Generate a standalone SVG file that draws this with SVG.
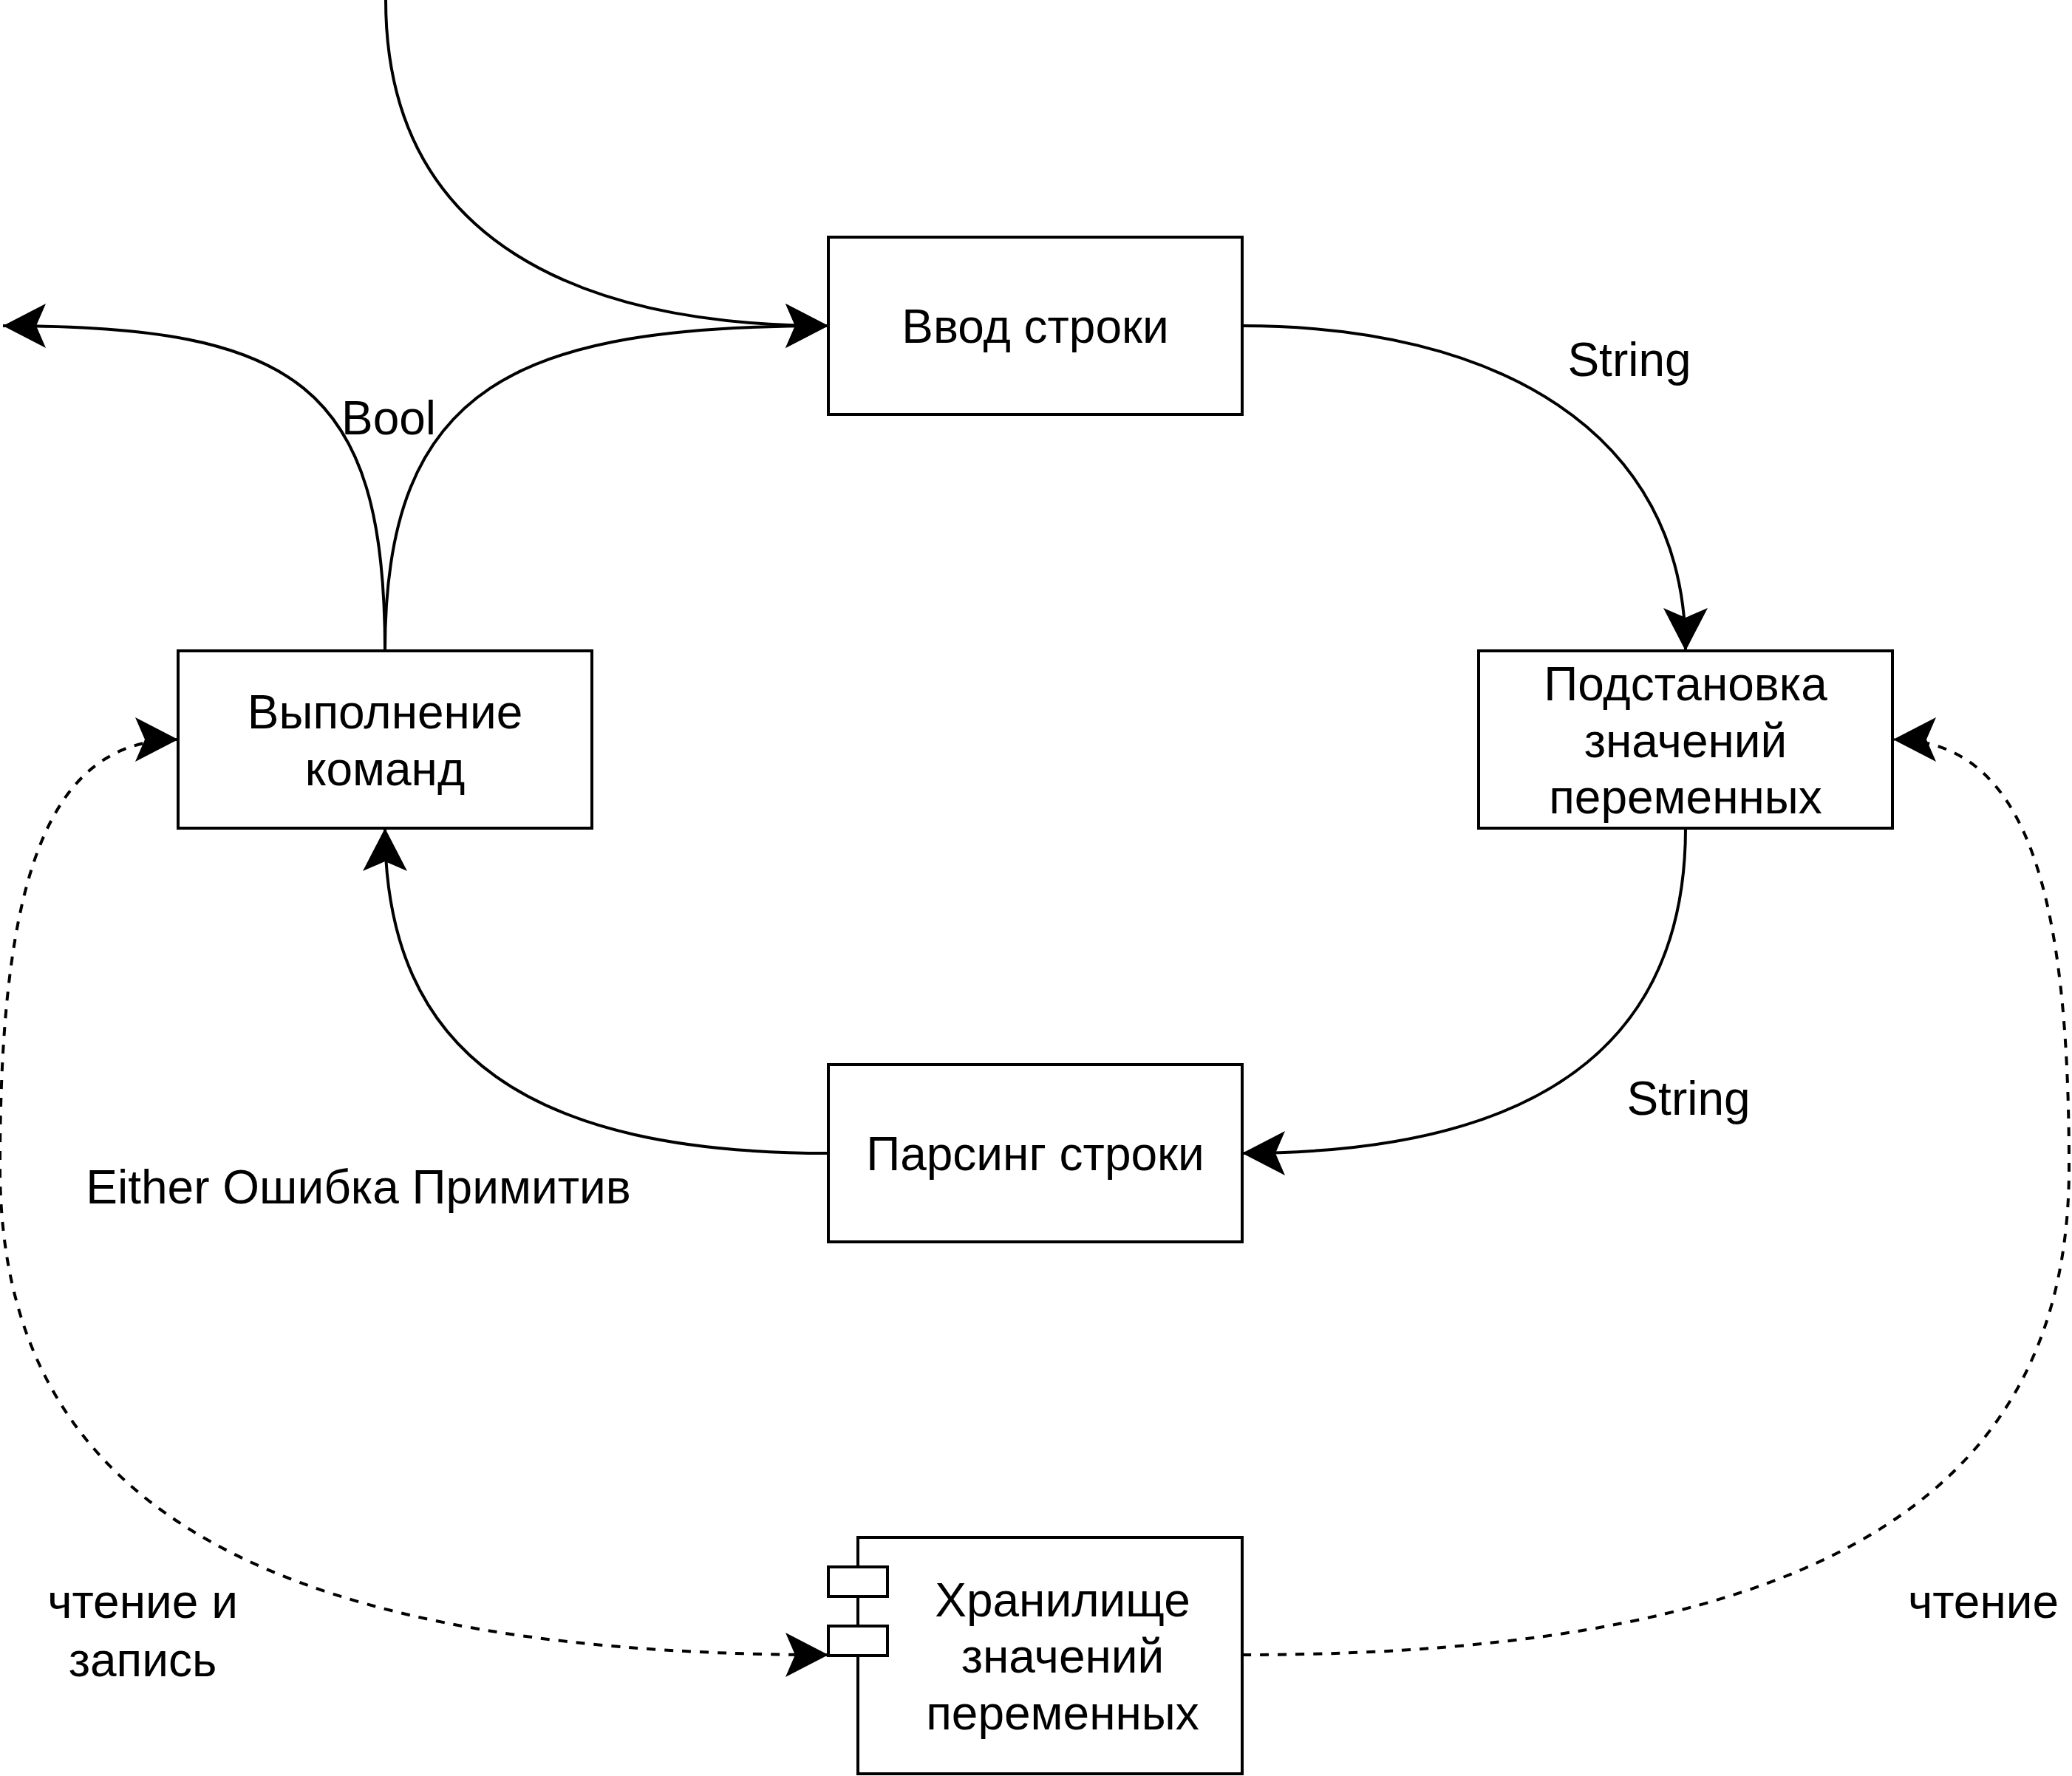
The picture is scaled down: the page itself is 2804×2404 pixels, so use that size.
<svg xmlns="http://www.w3.org/2000/svg" width="2804" height="2404" viewBox="0 0 2804 2404">
<style>
.box{fill:#fff;stroke:#000;stroke-width:4}
.e{fill:none;stroke:#000;stroke-width:4}
.d{stroke-dasharray:12 12}
text{font-family:"Liberation Sans",Arial,sans-serif;font-size:64px;fill:#000;text-anchor:middle}
</style>
<defs>
<marker id="a" viewBox="-60 -32 64 64" refX="0" refY="0" markerWidth="64" markerHeight="64" markerUnits="userSpaceOnUse" orient="auto-start-reverse">
<path d="M0,0 L-58,-30 L-45,0 L-58,30 Z" fill="#000"/>
</marker>
</defs>
<rect width="2804" height="2404" fill="#fff"/>
<g id="connectors">
<path class="e" d="M522,0 C522,330 790,441 1121,441" marker-end="url(#a)"/>
<path class="e" d="M521,881 C521,520 700,441 1121,441" marker-end="url(#a)"/>
<path class="e" d="M521,881 C521,520 400,441 4,441" marker-end="url(#a)"/>
<path class="e" d="M1681,441 C2020,441 2281,580 2281,881" marker-end="url(#a)"/>
<path class="e" d="M2281,1121 C2281,1430 2060,1561 1681,1561" marker-end="url(#a)"/>
<path class="e" d="M1121,1561 C720,1561 521,1430 521,1121" marker-end="url(#a)"/>
<path class="e d" d="M241,1001 C60,1001 0,1200 0,1580 C0,2000 300,2240 1121,2240" marker-start="url(#a)" marker-end="url(#a)"/>
<path class="e d" d="M1681,2240 C2500,2240 2800,2000 2800,1580 C2800,1200 2740,1001 2562,1001" marker-end="url(#a)"/>
<text x="526" y="588">Bool</text>
<text x="2205" y="509">String</text>
<text x="2285" y="1509">String</text>
<text x="485" y="1629">Either Ошибка Примитив</text>
<text x="193" y="2190">чтение и</text>
<text x="193" y="2269">запись</text>
<text x="2684" y="2190">чтение</text>
</g>
<g id="n-input">
<rect class="box" x="1121" y="321" width="560" height="240"/>
<text x="1401" y="464">Ввод строки</text>
</g>
<g id="n-subst">
<rect class="box" x="2001" y="881" width="560" height="240"/>
<text x="2281" y="948">Подстановка</text>
<text x="2281" y="1025">значений</text>
<text x="2281" y="1101">переменных</text>
</g>
<g id="n-exec">
<rect class="box" x="241" y="881" width="560" height="240"/>
<text x="521" y="986">Выполнение</text>
<text x="521" y="1063">команд</text>
</g>
<g id="n-parse">
<rect class="box" x="1121" y="1441" width="560" height="240"/>
<text x="1401" y="1584">Парсинг строки</text>
</g>
<g id="n-store">
<rect class="box" x="1161" y="2081" width="520" height="320"/>
<rect class="box" x="1121" y="2121" width="80" height="40"/>
<rect class="box" x="1121" y="2201" width="80" height="40"/>
<text x="1438" y="2188">Хранилище</text>
<text x="1438" y="2264">значений</text>
<text x="1438" y="2341">переменных</text>
</g>
</svg>
